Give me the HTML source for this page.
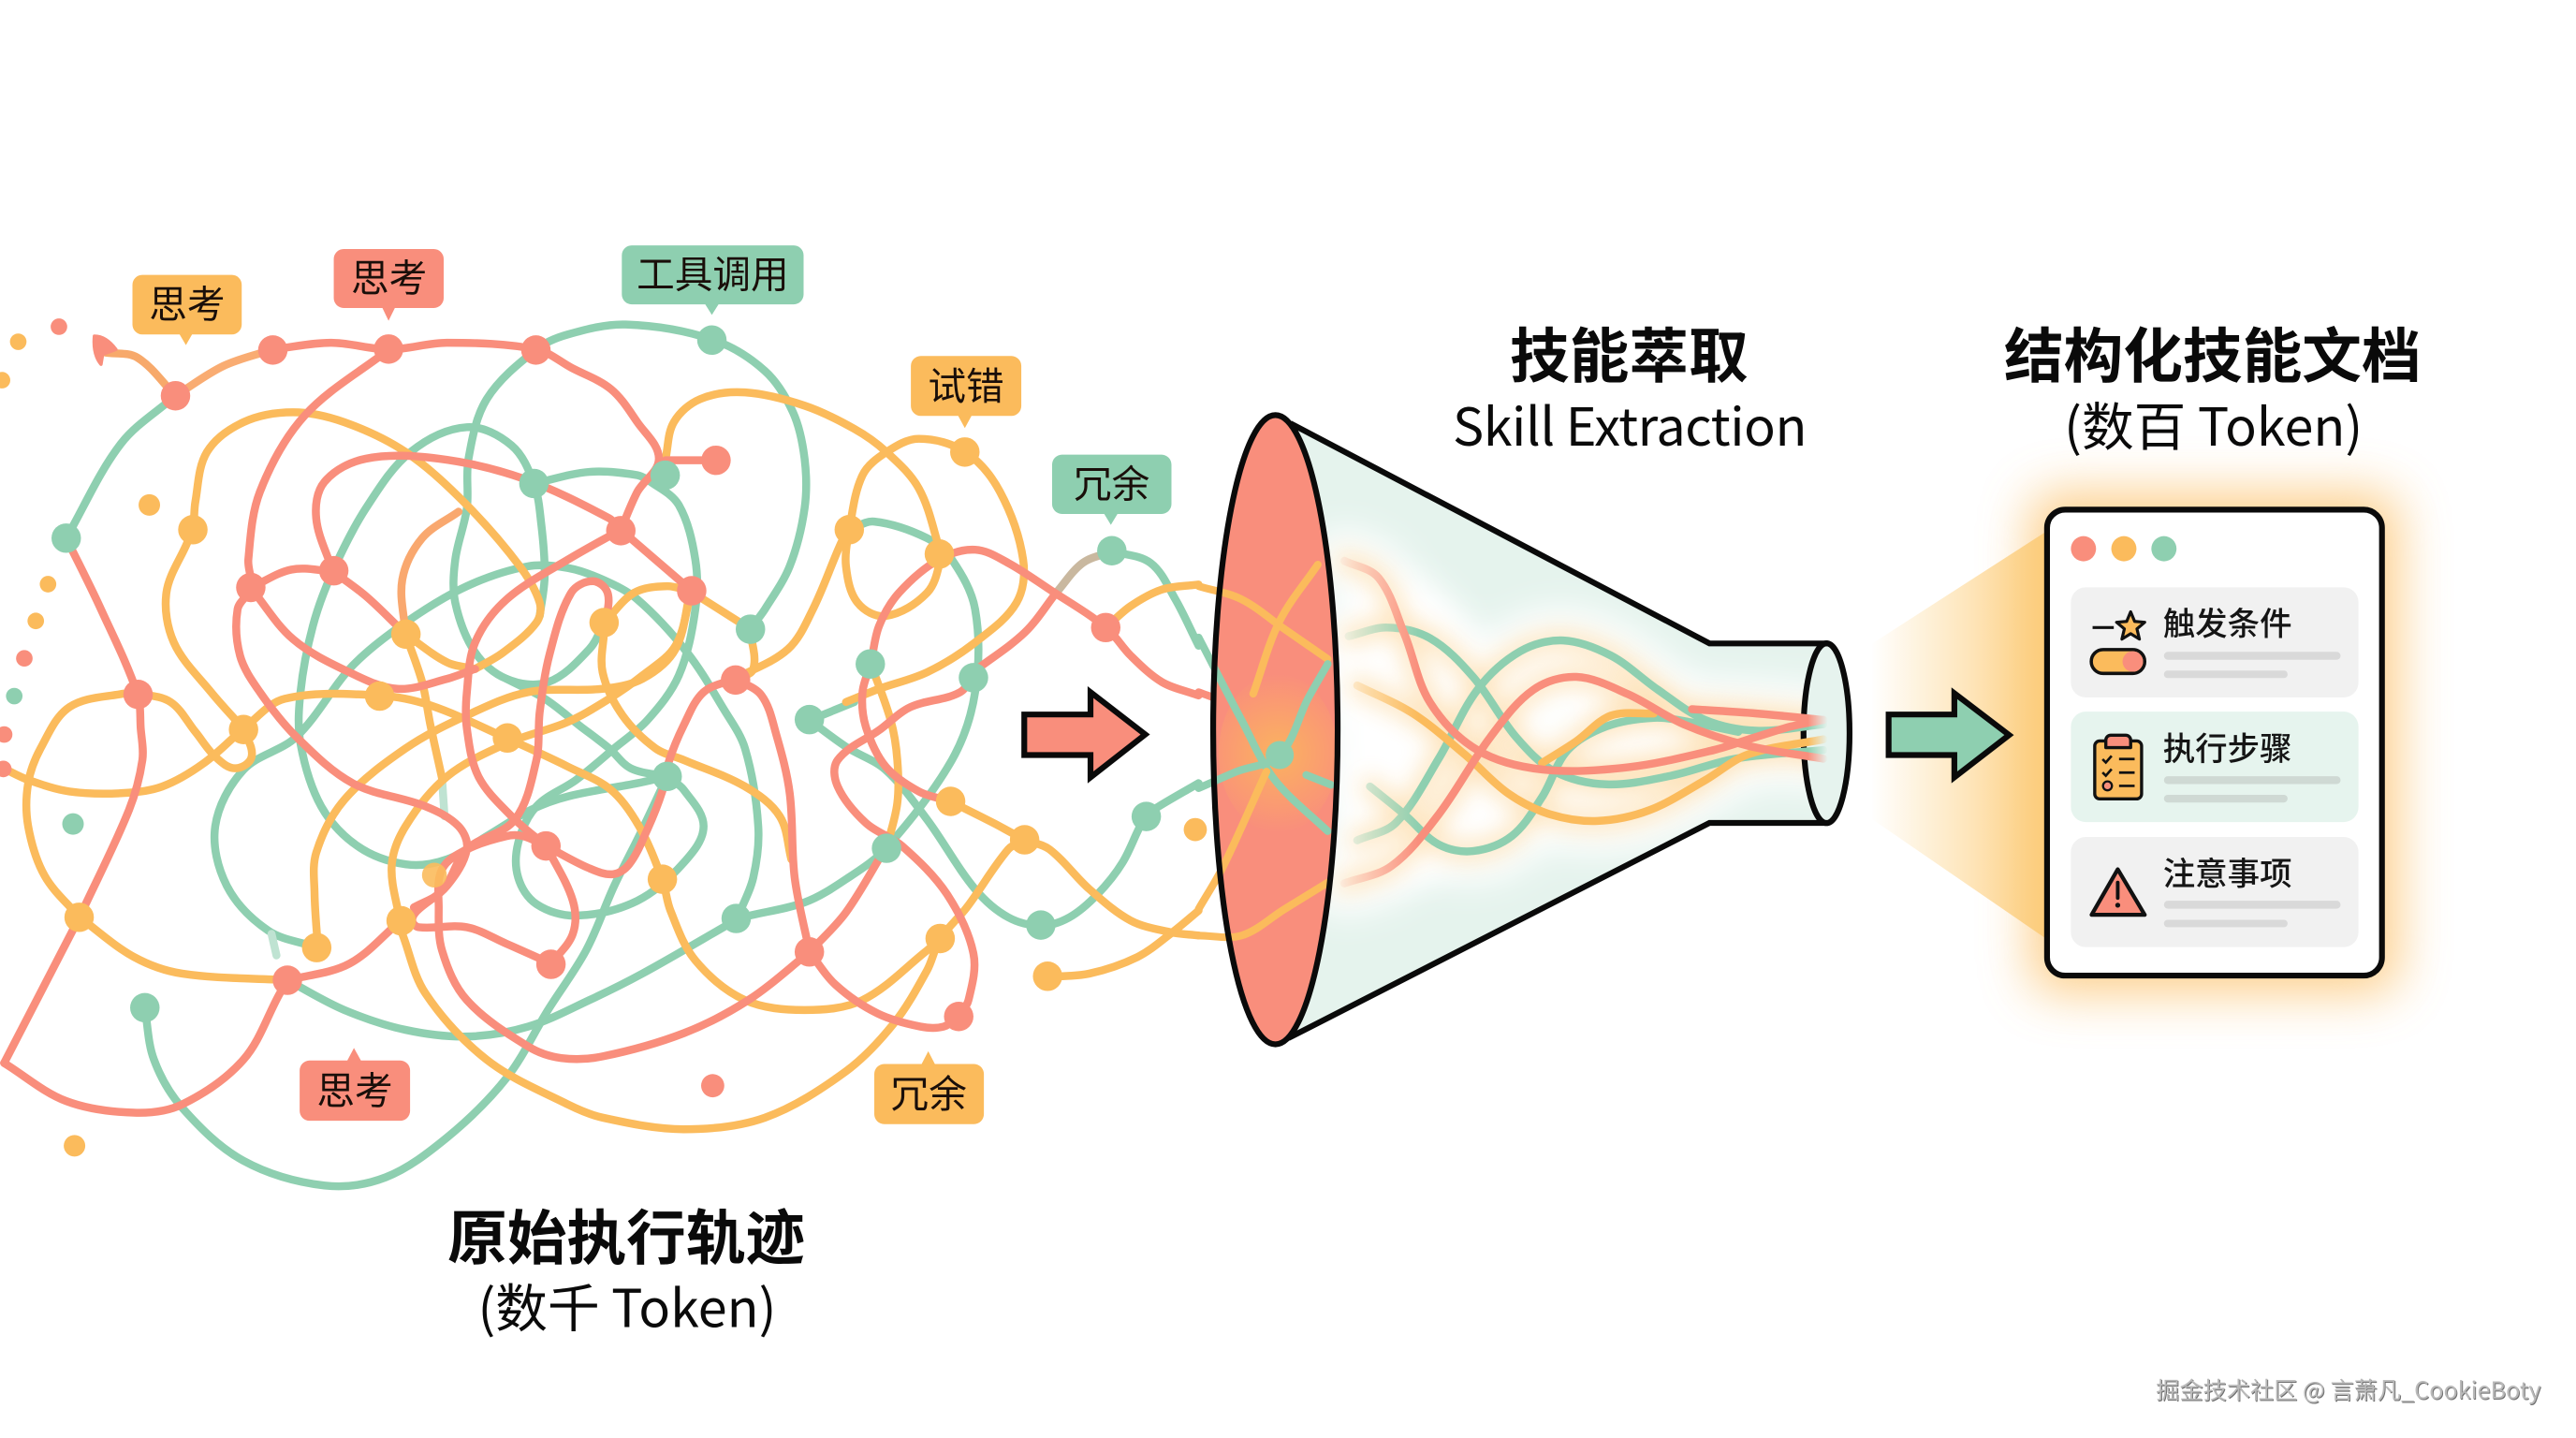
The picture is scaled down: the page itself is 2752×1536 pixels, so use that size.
<!DOCTYPE html>
<html lang="zh"><head><meta charset="utf-8"><title>技能萃取</title>
<style>
html,body{margin:0;padding:0;background:#fff}
svg{display:block;width:2752px;height:1536px}
text{font-family:"Noto Sans CJK SC","Liberation Sans",sans-serif;fill:#111}
.tag{font-size:23px;text-anchor:middle;fill:#1a0f0a}
.t{font-size:36px;font-weight:700;text-anchor:middle;fill:#0a0a0a}
.s{font-size:31.500px;text-anchor:middle;fill:#0a0a0a}
.r{font-size:19.500px;font-weight:500;fill:#151515}
</style></head><body>
<svg xmlns="http://www.w3.org/2000/svg" viewBox="0 0 1556 868.47">
<defs>
<filter id="b7" x="-30%" y="-50%" width="160%" height="200%"><feGaussianBlur stdDeviation="7"/></filter>
<filter id="b16" x="-40%" y="-40%" width="180%" height="180%"><feGaussianBlur stdDeviation="15"/></filter>
<filter id="b10" x="-30%" y="-60%" width="160%" height="220%"><feGaussianBlur stdDeviation="10"/></filter>
<linearGradient id="cone" gradientUnits="userSpaceOnUse" x1="1130" y1="0" x2="1236" y2="0"><stop offset="0" stop-color="#FDD285" stop-opacity="0"/><stop offset="0.35" stop-color="#FDD285" stop-opacity=".35"/><stop offset="1" stop-color="#FCCB78" stop-opacity=".95"/></linearGradient>
<linearGradient id="fade" gradientUnits="userSpaceOnUse" x1="806" y1="0" x2="1104" y2="0"><stop offset="0" stop-color="#000"/><stop offset=".17" stop-color="#fff"/><stop offset=".96" stop-color="#fff"/><stop offset="1" stop-color="#000"/></linearGradient>
<mask id="strandMask" maskUnits="userSpaceOnUse" x="780" y="300" width="340" height="280"><rect x="780" y="300" width="340" height="280" fill="url(#fade)"/></mask>
<clipPath id="bodyClip"><path d="M779.5 255.7 L1032.6 388.6 L1104 388.6 L1104 497 L1032.6 497 L778.2 627 Z"/></clipPath>
<clipPath id="ellClip"><ellipse cx="770.4" cy="440.7" rx="37.6" ry="190"/></clipPath>
<radialGradient id="ellGlow" gradientUnits="userSpaceOnUse" cx="772" cy="455" r="48"><stop offset="0" stop-color="#FBB45E" stop-opacity=".95"/><stop offset="1" stop-color="#FBB45E" stop-opacity="0"/></radialGradient>
</defs>
<rect width="1556" height="868.47" fill="#fff"/>

<g id="tangle" fill="none" stroke-linecap="round" stroke-linejoin="round" stroke-width="4.800"></g>
<g id="nodes"></g>

<path d="M57 203 Q64 203 70 211 L62 214 L61 220 Q56 214 57 203Z" fill="#F98E7C" stroke="#F98E7C" stroke-width="2" stroke-linejoin="round"/>

<!-- tags -->
<g>
<path d="M86 166H140a6 6 0 0 1 6 6V196a6 6 0 0 1-6 6H116L112.3 208.4 108.500 202H86a6 6 0 0 1-6-6V172a6 6 0 0 1 6-6Z" fill="#FBBB5C"/>
<text class="tag" x="113" y="192">思考</text>
<path d="M207.600 150.400H262a6 6 0 0 1 6 6V180a6 6 0 0 1-6 6H238.500L234.700 193.700 231 186H207.600a6 6 0 0 1-6-6V156.400a6 6 0 0 1 6-6Z" fill="#F98E7C"/>
<text class="tag" x="235" y="176">思考</text>
<path d="M381.600 148.200H479.400a6 6 0 0 1 6 6V177.800a6 6 0 0 1-6 6H434L430 190.200 426 183.800H381.600a6 6 0 0 1-6-6V154.200a6 6 0 0 1 6-6Z" fill="#8ECFB0"/>
<text class="tag" x="430.500" y="174">工具调用</text>
<path d="M556.200 215H610.900a6 6 0 0 1 6 6V245.200a6 6 0 0 1-6 6H586.800L582.800 258.500 578.800 251.200H556.200a6 6 0 0 1-6-6V221a6 6 0 0 1 6-6Z" fill="#FBBB5C"/>
<text class="tag" x="583.500" y="241.500">试错</text>
<path d="M641.500 274.600H701.600a6 6 0 0 1 6 6V304.400a6 6 0 0 1-6 6H675L671 317 667 310.400H641.500a6 6 0 0 1-6-6V280.600a6 6 0 0 1 6-6Z" fill="#8ECFB0"/>
<text class="tag" x="671.500" y="300.500">冗余</text>
<path d="M187 640.500H209.800L213.800 632.900 218 640.500H241.700a6 6 0 0 1 6 6V670.900a6 6 0 0 1-6 6H187a6 6 0 0 1-6-6V646.500a6 6 0 0 1 6-6Z" fill="#F98E7C"/>
<text class="tag" x="214.300" y="667">思考</text>
<path d="M534.100 642.600H556.700L560.700 634.900 564.700 642.600H588.300a6 6 0 0 1 6 6V672.900a6 6 0 0 1-6 6H534.100a6 6 0 0 1-6-6V648.600a6 6 0 0 1 6-6Z" fill="#FBBB5C"/>
<text class="tag" x="561" y="669">冗余</text>
</g>

<!-- funnel -->
<path d="M779.500 255.700 L1032.600 388.600 L1104 388.600 L1104 497 L1032.600 497 L778.200 627 Z" fill="#E5F3ED"/>
<g clip-path="url(#bodyClip)">
 <ellipse cx="850" cy="440" rx="46" ry="90" fill="#fff" filter="url(#b10)"/>
 <g id="glowWhite" fill="none" stroke="#fff" stroke-width="38" filter="url(#b10)" stroke-linecap="round"></g>
 <g id="glowOrange" fill="none" stroke="#FBC56F" stroke-width="11" opacity=".48" filter="url(#b7)" stroke-linecap="round"></g>
</g>
<ellipse cx="1103.300" cy="442.800" rx="13.900" ry="54.300" fill="#E6F3EE"/>
<path d="M779.500 255.700 L1032.600 388.600 L1104 388.600 M1104 497 L1032.600 497 L778.200 627" fill="none" stroke="#0a0a0a" stroke-width="3.500" stroke-linejoin="miter"/>
<ellipse cx="1103.300" cy="442.800" rx="13.900" ry="54.300" fill="none" stroke="#0a0a0a" stroke-width="3.500"/>
<g id="strands" mask="url(#strandMask)" fill="none" stroke-width="4.800" stroke-linecap="round"></g>
<ellipse cx="770.400" cy="440.700" rx="37.600" ry="190" fill="#F98E7C"/>
<ellipse cx="772" cy="455" rx="36" ry="48" fill="url(#ellGlow)" clip-path="url(#ellClip)"/>
<g id="flines" fill="none" stroke-width="4.600" stroke-linecap="round"></g>
<circle cx="773" cy="456" r="8.500" fill="#8ECFB0"/>
<ellipse cx="770.400" cy="440.700" rx="37.600" ry="190" fill="none" stroke="#0a0a0a" stroke-width="3.500"/>

<!-- arrows -->
<polygon points="618.700,431.500 658.700,431.500 658.700,418 691.800,443.600 658.700,469.500 658.700,456 618.700,456" fill="#F98E7C" stroke="#0a0a0a" stroke-width="3.500" stroke-miterlimit="8"/>

<!-- card glow -->
<rect x="1226" y="297" width="223" height="303" rx="16" fill="#FBBB5C" opacity=".7" filter="url(#b16)"/>
<polygon points="1130.800,388.700 1236,321 1236,567 1130.800,494.700" fill="url(#cone)"/>
<polygon points="1140.800,431.500 1180.500,431.500 1180.500,418.700 1213.600,443.900 1180.500,469.500 1180.500,456 1140.800,456" fill="#8ECFB0" stroke="#0a0a0a" stroke-width="3.500" stroke-miterlimit="8"/>

<!-- card -->
<rect x="1236.500" y="307.800" width="202.300" height="281.400" rx="11" fill="#fff" stroke="#0a0a0a" stroke-width="3.500"/>
<circle cx="1258.500" cy="331.400" r="7.600" fill="#F98E7C"/><circle cx="1282.900" cy="331.400" r="7.600" fill="#FBBB5C"/><circle cx="1307.100" cy="331.400" r="7.600" fill="#8ECFB0"/>
<rect x="1250.900" y="354.700" width="173.700" height="66.500" rx="9" fill="#F1F1F1"/>
<rect x="1250.900" y="429.800" width="173.700" height="66.700" rx="9" fill="#E6F4EE"/>
<rect x="1250.900" y="505.500" width="173.700" height="66.500" rx="9" fill="#F1F1F1"/>
<text class="r" x="1306.500" y="383.500">触发条件</text>
<text class="r" x="1306.500" y="459">执行步骤</text>
<text class="r" x="1306.500" y="534.500">注意事项</text>
<g fill="#D9D9D9">
<rect x="1307.100" y="393.700" width="106.700" height="4.800" rx="2.400"/><rect x="1307.100" y="405" width="74.700" height="4.500" rx="2.200"/>
<rect x="1307.100" y="544" width="106.700" height="4.800" rx="2.400"/><rect x="1307.100" y="555.500" width="74.700" height="4.500" rx="2.200"/>
</g>
<g fill="#CFD9D4"><rect x="1307.100" y="468.800" width="106.700" height="4.700" rx="2.300"/><rect x="1307.100" y="480" width="74.700" height="4.700" rx="2.300"/></g>
<path d="M1264 379H1276.800" stroke="#111" stroke-width="1.800" fill="none"/>
<polygon points="1287,369.500 1289.400,375.300 1295.500,375.800 1290.800,379.800 1292.300,386 1287,382.700 1281.700,386 1283.200,379.800 1278.500,375.800 1284.600,375.300" fill="#FBBB5C" stroke="#111" stroke-width="1.800" stroke-linejoin="round"/>
<rect x="1263.200" y="392.300" width="32.300" height="14.400" rx="7.200" fill="#FBBB5C" stroke="#111" stroke-width="2"/>
<path d="M1288.300 393.300a6.200 6.200 0 0 1 0 12.400a6.200 6.200 0 0 1 0-12.400Z" fill="#F98E7C"/>
<rect x="1265.300" y="447.500" width="28.300" height="35" rx="3" fill="#FBBB5C" stroke="#111" stroke-width="1.900"/>
<path d="M1272 451.500V447a3 3 0 0 1 3-3H1284a3 3 0 0 1 3 3V451.500Z" fill="#F98E7C" stroke="#111" stroke-width="1.900" stroke-linejoin="round"/>
<path d="M1270 458.500l2 2 3.500-4M1270 466.500l2 2 3.500-4M1280 458.400H1289.400M1280 466.600H1289.400M1280 474.600H1289.400" stroke="#111" stroke-width="1.500" fill="none"/>
<circle cx="1273" cy="474.600" r="2.700" fill="#F98E7C" stroke="#111" stroke-width="1.300"/>
<path d="M1279.200 525 L1295.500 552.500 H1263.400 Z" fill="#F98E7C" stroke="#111" stroke-width="2.400" stroke-linejoin="round"/>
<path d="M1279.200 533V542.300" stroke="#111" stroke-width="2.200" stroke-linecap="round"/><circle cx="1279.200" cy="546.700" r="1.500" fill="#111"/>

<!-- titles -->
<text class="t" x="378.300" y="760.500">原始执行轨迹</text>
<text class="s" x="378.800" y="801.500">(数千 Token)</text>
<text class="t" x="984" y="228">技能萃取</text>
<text class="s" x="984.500" y="269" textLength="214" lengthAdjust="spacing">Skill Extraction</text>
<text class="t" x="1336.500" y="228">结构化技能文档</text>
<text class="s" x="1337" y="269">(数百 Token)</text>
<text x="1302.800" y="845.300" style="font-size:14.250px;fill:#6d6d6d">掘金技术社区 @ 言萧凡_CookieBoty</text>
<text x="1302.300" y="844.800" style="font-size:14.250px;fill:#b9b9b9">掘金技术社区 @ 言萧凡_CookieBoty</text>
</svg>
<script>
(function(){
var S='#F98E7C',O='#FBBB5C',G='#8ECFB0',M='#F9A86F';
function tan(a,c){var x=c[0]-a[0],y=c[1]-a[1],l=Math.sqrt(x*x+y*y)||1;return [x/l,y/l];}
function dist(a,b){var x=a[0]-b[0],y=a[1]-b[1];return Math.sqrt(x*x+y*y);}
function cr(p){var d='M'+p[0][0]+' '+p[0][1];for(var i=0;i<p.length-1;i++){var a=p[i-1]||p[i],b=p[i],c=p[i+1],e=p[i+2]||c,l=dist(b,c)/3,t1=tan(a,c),t2=tan(b,e);
d+=' C'+(b[0]+t1[0]*l).toFixed(1)+' '+(b[1]+t1[1]*l).toFixed(1)+' '+(c[0]-t2[0]*l).toFixed(1)+' '+(c[1]-t2[1]*l).toFixed(1)+' '+c[0]+' '+c[1];}return d;}
function P(c,p,w){return '<path stroke="'+c+'"'+(w?' stroke-width="'+w+'"':'')+' d="'+cr(p)+'"/>';}
var L=[
[G,[[106,239],[73,268],[40,325]]],
[G,[[173.6,592],[208,610],[245,622],[282,626],[319,620],[356,604],[388,588],[437,560],[445,555],[486,545],[511,531],[535.5,512],[575,459],[589,418],[589,368],[575,338],[560,325],[528,315],[513,320]]],
[G,[[365,376],[356,392],[331,412],[306,410],[287,394],[275,364],[275,338],[282,307],[283,277],[294,241],[324,211],[343,202],[378,196],[430,205],[462,224],[479,249],[486,277],[486,307],[477,342],[462,368],[453,380]]],
[G,[[306,410],[329,422],[351,439],[368,452],[381,464],[403,469]]],
[G,[[326,372],[329,348],[327,317],[322.5,292],[309,269],[282,258],[248,273],[221,307],[201,345],[189,378],[181.5,418],[181.5,449],[194,487],[216,511],[245,522],[270,519],[294,505],[321,489],[343,481],[385,473],[403,469]]],
[G,[[322.5,292],[356,285],[385,287],[393,291],[410,305],[420,338],[420,368],[410,408],[391,435],[371,452],[348,471],[324,487],[313,509],[313,530],[324,546],[348,553],[385,544],[413,521],[425,499],[413,477],[403,469]]],
[G,[[191,572],[162,562],[137,535],[130,499],[147,465],[179,445],[213,402],[245,376],[282,354],[319,342],[343,343],[364,350],[385,362],[415,394],[437,428],[450,452],[458,499],[455,530],[445,555]]],
[G,[[87.5,609],[93,640],[110,669],[147,701],[196,716],[233,711],[270,687],[306,651],[331,610],[354,574],[371,535],[386,505],[403,469]]],
['#BFE3D2',[[164,564],[167,577]]],
['#BFE3D2',[[267,470],[268.5,493]]],
[G,[[489,435],[516,424]]],
[G,[[489,435],[511,451],[535,465],[560,495],[589,537],[609,554],[629,559],[646,554],[663,540],[678,521],[692,493],[700,487],[724,473]]],
[G,[[672,333],[695,340],[710,362],[724,390]]],

[O,[[192,572],[190,540],[191,515],[208,483],[245,452],[282,432],[319,418],[364,416],[388,410],[408,392],[417,357]]],
[O,[[287,404],[304,394],[324,376],[326,364],[314,342],[280,303],[245,273],[208,255],[177,249],[147,255],[125,273],[118,303],[116.5,320],[113,328],[100.5,358],[105,388],[127.5,418],[147,440]]],
[O,[[287,404],[270,400],[245,383]]],
[M,[[277,309],[255,325],[243,350],[245,383]]],
[O,[[245,383],[255,412],[260,438],[267,470]]],
[O,[[147,440],[172,422],[229,420],[260,426],[306.5,446],[343,463],[369,477],[386,499],[400,531],[405,550],[420,580],[450,604],[486,610],[521,604],[560,574],[568,567]]],
[O,[[48,554],[27,529],[17,499],[17,473],[24.5,452],[42,427],[74,419],[83,419],[103,424],[118,442],[130,457],[142,464],[152,457],[147,440]]],
[O,[[2,464],[17,471],[42,478],[74,479],[98,475],[123,461],[147,440]]],
[O,[[48,554],[81,578],[110,588],[174,592]]],
[O,[[241.5,556],[236.6,523],[245,499],[270,469],[306,449],[343,436],[368,422],[388,408],[408,390],[417,360]]],
[O,[[417,357],[447,376],[453,380]]],
[O,[[453,380],[455,404],[444,410]]],
[O,[[444,410],[476,392],[491,368],[508,328],[513,320]]],
[O,[[402,277],[407,255],[423,241],[450,237],[486,245],[516,259],[535.5,273],[555,295],[567,330],[568,338],[560,358],[535,372],[518,364],[511,342],[513,320],[521,287],[535.5,273],[555,265],[583,273],[604,297],[618,338],[614,364],[589,388],[560,406],[531,416],[511,424]]],
[O,[[365,376],[383,358],[403,354],[417,357]]],
[O,[[365,380],[364,406],[376,432],[396,452],[413,459],[450,475],[471,493],[478,519]]],
[O,[[243,564],[257,600],[294,640],[343,667],[364,675],[413,682],[462,675],[511,647],[540,618],[560,586],[568,567],[584,548],[609,513],[619,507]]],
[O,[[574,484],[600,497],[619,507],[634,513],[658,537],[683,556],[707,563],[724,565]]],
[O,[[633,590],[658,588],[687,578],[707,564],[724,550]]],
[O,[[668,379],[683,366],[702,356],[724,353]]],
[O,[[526,401],[538,435],[542,459],[542,485],[535.5,512]]],

['#F7A96B',[[64,213],[83,216],[106,239]]],
['#F9AC72',[[106,239],[135,221],[165,211]]],
[S,[[165,211],[200,207],[235,211],[270,207],[324,211],[345,222],[369,235],[385,255],[398,277],[385,297],[375,320]]],
[S,[[40,325],[61,368],[83,419],[85,440],[86,459],[78,489],[48,554]]],
[S,[[48,554],[2.5,642]]],
[S,[[2.5,642],[40,665],[81,672],[110,667],[147,640],[169,600],[174,592]]],
[S,[[174,592],[211,582],[242,556]]],
[S,[[235,211],[184,251],[157,297],[150,338],[151.5,355],[143.5,368],[145,396],[157,418],[179,445],[213,473],[257,487],[277,499],[282,513],[270,535],[252,550],[249,556],[253,560],[282,560],[306,570],[333,582]]],
[S,[[151.5,355],[176,344],[201,345]]],
[S,[[201,345],[191,313],[196,291],[221,277],[265,277],[316,289],[368,313],[375,320]]],
[S,[[201,345],[221,360],[245,383]]],
[S,[[151.5,355],[177,386],[211,406],[240,416],[270,410],[287,404]]],
[S,[[375,320],[343,338],[306,362],[287,388],[282,418],[282,440],[289,469],[309,493],[330,511]]],
[S,[[375,320],[418,357]]],
[S,[[366,376],[367,358],[358,351],[345,358],[332,395],[326,430],[324,459],[311,495],[282,513],[267,538],[250,548]]],
[S,[[444,410],[425,418],[413,438],[404,460],[400,478],[391,501],[380,522],[370,528],[355,524],[330,511]]],
[S,[[444,410],[460,420],[469,444],[477,479],[480,530],[489,575]]],
[S,[[489,575],[452,604],[413,624],[364,638],[339,639],[319,632],[282,604],[267,574],[265,548],[267,525],[282,513],[306,505],[316,505],[330,511]]],
[S,[[330,511],[346,544],[346,564],[333,582]]],
[S,[[489,575],[511,551],[535,512]]],
[S,[[489,575],[505,595],[530,612],[556,620],[570,620],[579,614]]],
[S,[[589,405],[580,418],[550,427],[531,441],[506,459],[506,475],[523,497],[545,511],[572,540],[588,576],[585,604],[579,614]]],
[S,[[589,405],[619,382],[638,358]]],
['#C9B89F',[[638,358],[654,340],[672,333]]],
[S,[[526,401],[531,378],[543,358],[567,338],[589,332],[609,340],[634,356],[668,379],[683,396],[702,412],[724,420]]],
[S,[[526,401],[521,418],[523,439],[535,463],[555,478],[574,484]]],
[S,[[402,278],[432,278]]]
];
document.getElementById('tangle').innerHTML=L.map(function(a){return P(a[0],a[1]);}).join('');
var N={};
N[S]=[[106,239],[164.8,211.4],[234.7,210.8],[323.7,211.4],[151.5,354.8],[201.6,344.7],[83.4,419.4],[375,320.5],[432.5,278],[417.8,356.8],[444.3,410.7],[667.9,379],[173.6,592],[329.8,510.9],[332.8,582.4],[488.9,574.9],[579.1,613.9]];
N[O]=[[116.5,319.9],[229.3,420.4],[147.1,440.6],[245.2,383],[364.9,376],[306.5,445.7],[513,319.9],[567.4,334.6],[582.8,273],[47.8,554],[191.3,572.3],[242.3,556.1],[400.1,531],[574.2,484],[618.9,507.2],[567.9,566.8],[632.8,589.6]];
N[G]=[[40,325],[322.5,292],[401.8,287],[488.9,434.6],[525.7,401],[588,409.3],[453.3,380],[430,205.4],[671.6,332.6],[403,468.9],[444.7,554.7],[535.5,512.3],[628.7,558.7],[692.4,493.1],[87.5,608.6]];
var h='<circle cx="262.4" cy="528.5" r="7.5" fill="'+O+'" opacity=".9"/>';
for(var c in N){N[c].forEach(function(p){h+='<circle cx="'+p[0]+'" cy="'+p[1]+'" r="8.9" fill="'+c+'"/>';});}
[[35.6,197.3,5,S],[11,206.4,5,O],[1.2,229.6,5,O],[90.2,305,6.5,O],[29,352.8,5,O],[21.6,375,5,O],[14.7,397.6,5,S],[8.6,420.4,5,G],[2.5,443.6,5,S],[2,464.4,5,S],[44.1,497.6,6.5,G],[45,692,6.5,O],[430.5,655.7,7,S],[722,501,7,O]].forEach(function(d){h+='<circle cx="'+d[0]+'" cy="'+d[1]+'" r="'+d[2]+'" fill="'+d[3]+'"/>';});
document.getElementById('nodes').innerHTML=h;
var F=[
[G,[[814.6,384.2],[838,379],[863.9,385.5],[889.8,408.8],[915.8,445.2],[939.2,466],[970.3,473.7],[1009.3,468.5],[1048.2,458.2],[1101.4,453]]],
[G,[[819.8,507.5],[843.1,497],[869,458.2],[892.4,416.6],[918.4,393.3],[944.4,386.8],[973,395.9],[1001.5,416.6],[1030,434.8],[1061,441.3],[1101.4,437.4]]],
[G,[[827.5,475],[848.3,491.9],[869,510],[889.8,514],[913.2,504.9],[931.4,481.5],[947,453],[970.3,438.7],[999,433.5],[1020,436],[1050,442]]],
[O,[[931.4,460.8],[952,447.8],[973,432.2],[999,430.9]]],
[O,[[819.8,414],[853.5,430.9],[884.7,455.6],[910.6,478.9],[936.6,491.9],[965,495.8],[996.3,489.3],[1030,471.2],[1056,455.6],[1101.4,446.5]]],
[S,[[812,338.7],[832.7,349],[848.3,382.9],[863.9,424.4],[892.4,453],[931.4,464.7],[983.3,463.4],[1035.2,453],[1061,445],[1082,438.7],[1101.4,434.8]]],
[S,[[1022,428.3],[1061,430.9],[1101.4,434.8]]],
[S,[[812,533.5],[840.5,523],[869,491.9],[900.2,445.2],[926.2,416.6],[952.2,408.8],[983.3,419.2],[1017,437.4],[1056,450.4],[1101.4,458.2]]]
];
document.getElementById('strands').innerHTML=F.map(function(a){return P(a[0],a[1]);}).join('');
var gl=F.map(function(a){return '<path d="'+cr(a[1])+'"/>';}).join('');
document.getElementById('glowWhite').innerHTML=gl;
document.getElementById('glowOrange').innerHTML=gl;
var FL=[
[O,[[724,354],[750,362],[776,380],[802,398]]],
[O,[[757,419],[773,375],[796,341]]],
[G,[[724,385],[750,435],[770,471],[802,502]]],
[G,[[724,476],[747,466],[773,456],[790,422],[802,401]]],
[O,[[724,549],[739,523],[765,466]]],
[O,[[724,565],[750,565],[776,549],[802,533]]],
[S,[[724,418],[735,422]]],
[G,[[789,468],[804,474]]]
];
document.getElementById('flines').innerHTML=FL.map(function(a){return P(a[0],a[1]);}).join('');
})();
</script>
</body></html>
